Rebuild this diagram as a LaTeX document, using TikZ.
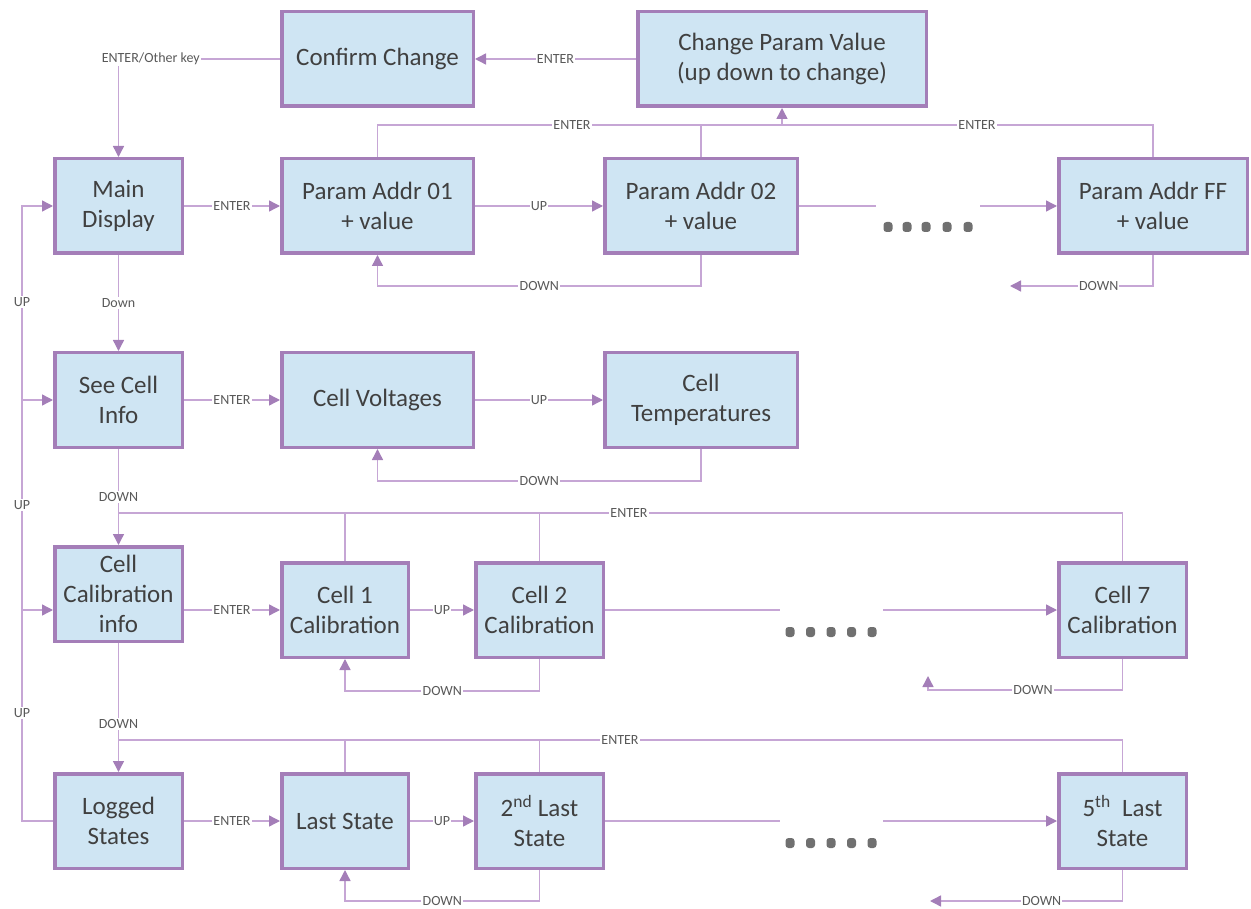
\documentclass[tikz,border=0pt]{standalone}
\usepackage{fontspec}
\setmainfont{Carlito}
\usetikzlibrary{arrows.meta}
\definecolor{boxfill}{HTML}{CFE5F3}
\definecolor{boxline}{HTML}{A47EB8}
\definecolor{conncol}{HTML}{C6A6D5}
\definecolor{arrcol}{HTML}{A47EB8}
\definecolor{txtcol}{HTML}{404040}
\definecolor{labcol}{HTML}{595959}
\definecolor{dotcol}{HTML}{707070}
\tikzset{
  stbox/.style={draw=boxline, line width=3.5pt, fill=boxfill, text=txtcol, align=center,
    inner sep=0pt, minimum height=94.5pt, font=\fontsize{25}{30}\selectfont},
  conn/.style={draw=conncol, line width=1.4pt},
  arr/.style={conn, -{Triangle[length=11pt,width=11pt,color=arrcol]}},
  lab/.style={fill=white, inner sep=1.2pt, text=labcol, font=\fontsize{14}{16}\selectfont},
  dotm/.style={fill=dotcol, rounded corners=3pt}
}
\begin{document}
\begin{tikzpicture}[x=1pt,y=-1pt]
\useasboundingbox (0,0) rectangle (1251,909);
% boxes
\node[stbox, minimum width=191.5pt] (conf) at (377.5,59) {Confirm Change};
\node[stbox, minimum width=288.5pt] (chg) at (782,59) {Change Param Value\\(up down to change)};
\node[stbox, minimum width=127.5pt] (main) at (118.5,206) {Main\\Display};
\node[stbox, minimum width=191.5pt] (p01) at (377.5,206) {Param Addr 01\\+ value};
\node[stbox, minimum width=192.5pt] (p02) at (701,206) {Param Addr 02\\+ value};
\node[stbox, minimum width=188.5pt] (pff) at (1153,206) {Param Addr FF\\+ value};
\node[stbox, minimum width=127.5pt] (sci) at (118.5,400) {See Cell\\Info};
\node[stbox, minimum width=191.5pt] (cv) at (377.5,400) {Cell Voltages};
\node[stbox, minimum width=192.5pt] (ct) at (701,400) {Cell\\Temperatures};
\node[stbox, minimum width=127.5pt] (cci) at (118.5,594) {Cell\\Calibration\\info};
\node[stbox, minimum width=126.5pt] (c1) at (345,610) {Cell 1\\Calibration};
\node[stbox, minimum width=127.5pt] (c2) at (539.5,610) {Cell 2\\Calibration};
\node[stbox, minimum width=127.5pt] (c7) at (1122.5,610) {Cell 7\\Calibration};
\node[stbox, minimum width=127.5pt] (ls) at (118.5,821) {Logged\\States};
\node[stbox, minimum width=126.5pt] (last) at (345,821) {Last State};
\node[stbox, minimum width=127.5pt] (l2) at (539.5,821) {2\textsuperscript{nd} Last\\State};
\node[stbox, minimum width=127.5pt] (l5) at (1122.5,821) {5\textsuperscript{th}~~Last\\State};
% free ends
\coordinate (pffd) at (1010,286);
\coordinate (p02e) at (876,206);
\coordinate (pffs) at (980,206);
\coordinate (c2e) at (780,610);
\coordinate (c7s) at (883,610);
\coordinate (c7d) at (928,676);
\coordinate (l2e) at (780,821);
\coordinate (l5s) at (883,821);
\coordinate (l5d) at (930,901);
\coordinate (ub) at (22,206);
\coordinate (bus1) at (0,125);
\coordinate (bus3) at (0,513);
\coordinate (bus4) at (0,740);
% top row
\draw[arr] (chg.west) -- node[lab]{ENTER} (conf.east);
\draw[arr] (conf.west) -| node[lab,pos=0.4]{ENTER/Other key} (main.north);
\draw[arr] (main.east) -- node[lab]{ENTER} (p01.west);
\draw[arr] (p01.east) -- node[lab]{UP} (p02.west);
\draw[conn] (p01.north) -- (p01.north |- bus1) -- (pff.north |- bus1) -- (pff.north);
\draw[conn] (p02.north) -- (p02.north |- bus1);
\draw[arr] (chg.south |- bus1) -- (chg.south);
\node[lab] (e1) at (572,125) {ENTER};
\node[lab] (e2) at (977,125) {ENTER};
\draw[arr] (p02.south) -- ++(0,31) -| node[lab,pos=0.25]{DOWN} (p01.south);
\draw[arr] (pff.south) |- node[lab,pos=0.69]{DOWN} (pffd);
\draw[conn] (p02.east) -- (p02e);
\draw[arr] (pffs) -- (pff.west);
\foreach \x in {888,907,926,947,968} \fill[dotm] (\x-4.5,222) rectangle ++(9,10);
% left bus
\draw[arr] (main.south) -- node[lab]{Down} (sci.north);
\draw[arr] (ls.west) -| (ub) -- (main.west);
\draw[arr] (ub |- sci.west) -- (sci.west);
\draw[arr] (ub |- c1.west) -- (cci.west |- c1.west);
\node[lab] (u1) at (22,302) {UP};
\node[lab] (u2) at (22,505) {UP};
\node[lab] (u3) at (22,713) {UP};
% row 2
\draw[arr] (sci.east) -- node[lab]{ENTER} (cv.west);
\draw[arr] (cv.east) -- node[lab]{UP} (ct.west);
\draw[arr] (ct.south) -- ++(0,32) -| node[lab,pos=0.25]{DOWN} (cv.south);
\draw[arr] (sci.south) -- node[lab]{DOWN} (cci.north);
% row 3
\draw[conn] (sci.south |- bus3) -- (c7.north |- bus3) -- (c7.north);
\draw[conn] (c1.north) -- (c1.north |- bus3);
\draw[conn] (c2.north) -- (c2.north |- bus3);
\node[lab] (e3) at (629,513) {ENTER};
\draw[arr] (cci.east |- c1.west) -- node[lab]{ENTER} (c1.west);
\draw[arr] (c1.east) -- node[lab]{UP} (c2.west);
\draw[conn] (c2.east) -- (c2e);
\draw[arr] (c7s) -- (c7.west);
\foreach \x in {790,810.5,831,851.5,872} \fill[dotm] (\x-4.5,627) rectangle ++(9,10);
\draw[arr] (c2.south) -- ++(0,32) -| node[lab,pos=0.25]{DOWN} (c1.south);
\draw[arr] (c7.south) -- ++(0,31) -| node[lab,pos=0.23]{DOWN} (c7d);
\draw[arr] (cci.south) -- node[lab,pos=0.63]{DOWN} (ls.north);
% row 4
\draw[conn] (cci.south |- bus4) -- (l5.north |- bus4) -- (l5.north);
\draw[conn] (last.north) -- (last.north |- bus4);
\draw[conn] (l2.north) -- (l2.north |- bus4);
\node[lab] (e4) at (620,740) {ENTER};
\draw[arr] (ls.east) -- node[lab]{ENTER} (last.west);
\draw[arr] (last.east) -- node[lab]{UP} (l2.west);
\draw[conn] (l2.east) -- (l2e);
\draw[arr] (l5s) -- (l5.west);
\foreach \x in {790,810.5,831,851.5,872} \fill[dotm] (\x-4.5,838) rectangle ++(9,10);
\draw[arr] (l2.south) -- ++(0,31) -| node[lab,pos=0.25]{DOWN} (last.south);
\draw[arr] (l5.south) |- node[lab,pos=0.71]{DOWN} (l5d);
\end{tikzpicture}
\end{document}
